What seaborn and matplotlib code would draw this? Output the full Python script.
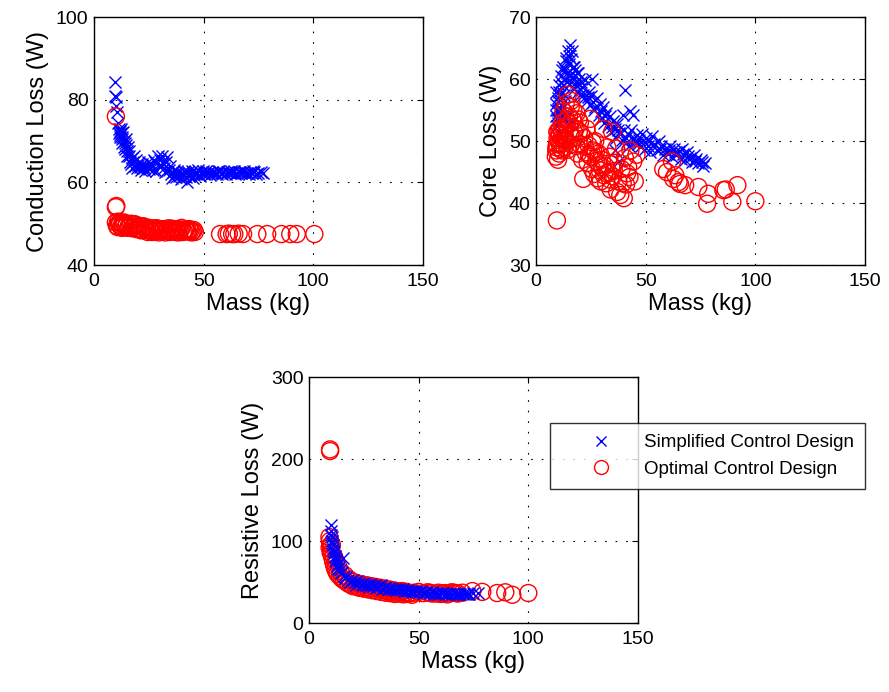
import numpy as np
import pandas as pd
import matplotlib
matplotlib.use("Agg")
import matplotlib.pyplot as plt
import seaborn as sns
from matplotlib.lines import Line2D

# ---------------- data ----------------
# Top-left: Conduction loss
cond_simpl_mass = [9.5, 9.8, 10, 10.2, 10.5, 11, 11.3, 11.8, 12, 12.5, 12.8, 13, 13.5, 14, 14.2, 14.8, 15, 15.5,
                   16, 16.5, 17, 17.2, 18, 18.5, 19, 20, 21, 22, 23, 24, 25, 26, 27, 28, 29, 30, 30.5, 31, 32,
                   33, 33.5, 34, 35, 36, 37, 38, 39, 40, 41, 42, 42.5, 43, 44, 45, 46, 47, 48, 49, 50, 51, 52,
                   53, 54, 55, 56, 57, 58, 59, 60, 61, 62, 63, 64, 65, 66, 67, 68, 69, 70, 71, 72, 73, 75, 77,
                   11.2, 11.7, 12.2, 12.7, 13.2, 13.8, 14.5, 15.2, 16.2, 17.5, 18.2, 19.5, 20.5, 21.5, 22.5,
                   23.5, 24.5, 25.5, 26.5, 27.5, 28.5, 29.5, 31.5, 32.5, 34.5, 35.5, 36.5, 37.5, 38.5, 39.5,
                   40.5, 41.5, 43.5, 44.5, 45.5, 46.5, 47.5, 48.5, 49.5, 50.5, 52.5, 54.5, 56.5, 58.5, 60.5,
                   62.5, 64.5, 66.5, 68.5, 70.5, 72.5, 74, 76]
cond_simpl_loss = [84.3, 81, 80.8, 78.5, 77, 74.5, 73, 72.5, 71.5, 72, 70.5, 71, 70, 69.5, 68, 69, 67.5, 68.5,
                   66.5, 65, 64.5, 66, 65, 64, 65.5, 64.2, 63.8, 64.5, 63.5, 64, 63.2, 64.5, 63, 65, 66.3, 65.5,
                   64, 66.5, 63.5, 65, 66.2, 63, 62, 62.5, 61.8, 62.7, 61.5, 62.3, 62.8, 61.3, 60.2, 62.5, 62,
                   61.2, 62.6, 62.2, 61.7, 62.4, 62.1, 62.8, 62.3, 61.9, 62.6, 62.4, 62.0, 62.7, 62.3, 62.5,
                   62.1, 62.6, 62.4, 62.2, 62.7, 62.3, 62.5, 62.2, 62.6, 62.4, 62.2, 62.5, 62.3, 62.6, 62.4, 62.3,
                   72, 71, 73, 69.5, 72.3, 68.5, 70.5, 66.5, 67.5, 63.5, 66.3, 63.5, 65, 63, 64, 62.8, 65, 63.5,
                   64.2, 65.5, 62.8, 64, 64.8, 62.5, 64, 61.2, 63, 61.3, 62.2, 60.8, 61.8, 62.6, 61.5, 62.8,
                   61.7, 62.1, 62.9, 61.6, 62.8, 62.2, 62.6, 62.2, 62.8, 62.0, 62.5, 62.8, 62.1, 62.5, 62.8,
                   62.1, 62.7, 62.0, 62.5]
cond_opt_mass = [10, 10, 10.2, 10, 10.5, 11, 11.5, 12, 12.5, 13, 13.5, 14, 14.5, 15, 16, 17, 18, 19, 20, 21, 22,
                 23, 24, 25, 26, 27, 28, 29, 30, 31, 32, 33, 34, 35, 36, 37, 38, 39, 40, 41, 42, 43, 44, 45, 46,
                 57.5, 60.5, 61.5, 63, 64, 66, 68, 74.5, 79, 85.5, 89.5, 92.5, 100.5,
                 10.8, 11.8, 12.8, 13.8, 15.5, 16.5, 17.5, 18.5, 19.5, 20.5, 21.5, 22.5, 23.5, 24.5, 25.5,
                 26.5, 27.5, 28.5, 29.5, 30.5, 31.5, 32.5, 33.5, 34.5, 35.5, 36.5, 37.5, 38.5, 39.5, 40.5,
                 41.5, 42.5, 43.5, 44.5, 45.5]
cond_opt_loss = [76, 54, 54.3, 50.3, 49.5, 50.5, 49.8, 50.2, 49.3, 50, 49.6, 50.1, 49.2, 49.9, 49.5, 50, 49.2,
                 49.7, 48.8, 49.4, 48.6, 49.2, 48.4, 49, 48.3, 48.9, 48.2, 48.8, 48.5, 48.1, 48.7, 48.3, 48.9,
                 48.2, 48.6, 48, 48.7, 48.4, 49, 48.2, 48.6, 48.1, 48.4, 48.2, 48,
                 47.5, 47.5, 47.6, 47.5, 47.5, 47.6, 47.5, 47.5, 47.5, 47.5, 47.5, 47.5, 47.5,
                 49.2, 50.4, 49.0, 50.3, 49.0, 49.9, 48.9, 49.9, 48.7, 49.5, 48.4, 49.4, 48.8, 48.0, 48.6,
                 48.0, 48.6, 48.9, 47.9, 48.7, 48.4, 47.9, 48.5, 48.0, 48.8, 48.2, 48.4, 47.9, 48.6, 48.0,
                 48.6, 48.3, 48.7, 47.9, 48.5]

# Top-right: Core loss
core_simpl_mass = [9, 9, 9.2, 9.5, 9.8, 10, 10, 10.3, 11, 11, 11.5, 12, 12, 12.5, 13, 13, 13.5, 14, 14.5, 15,
                   15.5, 15.8, 16, 16.5, 14, 15, 16, 17, 17.5, 18, 18.5, 19, 19.5, 20, 20.5, 21, 22, 22.5, 23,
                   24, 24.5, 25, 25.5, 26, 27, 28, 28.5, 29, 30, 30.5, 31, 32, 33, 33.5, 34, 35, 36, 36.5, 37,
                   38, 39, 39.5, 40, 40.5, 41, 42, 42.5, 43, 44, 44.5, 38, 36, 45, 46, 47, 48, 48.5, 49, 50,
                   51, 52, 53, 54, 55, 56, 57, 58, 59, 60, 61, 62, 63, 64, 65, 66, 67, 68, 69, 70, 71, 72, 73,
                   74, 75, 76, 77,
                   9.3, 9.6, 10.1, 10.6, 11.2, 11.8, 12.3, 12.8, 13.3, 13.8, 14.3, 14.8, 15.3, 16.2, 16.8,
                   17.3, 17.8, 18.3, 19.2, 20.2, 21.5, 23.5, 26.5, 29.5, 31.5, 34.5, 37.5, 41.5, 43.5, 46.5,
                   49.5, 51.5, 53.5, 56.5, 60.5, 63.5, 66.5, 69.5, 72.5, 75.5, 10.5, 12.2, 11.7]
core_simpl_loss = [58, 56, 54, 52.5, 57, 55, 53, 59, 57.5, 55, 60.5, 58, 53.5, 62, 60, 56.5, 63.5, 61, 64.5,
                   62.5, 65.5, 59.5, 63.2, 61, 54, 52.8, 53, 60.3, 62, 59, 61, 58, 60, 57.5, 59.5, 58.8, 57,
                   59.8, 56.5, 58, 55.8, 57.3, 60, 56.3, 55.5, 57, 54.3, 56, 53.8, 55.5, 53, 54.5, 52.5, 54,
                   51.5, 53.3, 52, 50.5, 52.8, 51.3, 50.2, 54.3, 51.8, 58.2, 50.5, 51.2, 49.2, 54.8, 54.2,
                   50.5, 46.8, 48.5, 49.8, 51, 50.2, 49.3, 51.2, 48.5, 50.5, 49.3, 48.3, 50.8, 49.5, 48.5, 50,
                   49.2, 47.8, 48.8, 48, 49.3, 47.5, 48.7, 47.8, 48.4, 47.2, 48, 47, 48.2, 47.3, 46.6, 47.8,
                   47.2, 46.5, 47, 46, 46.5,
                   55, 53.5, 56.5, 58, 59.5, 61.5, 59, 57.5, 61.5, 63, 59.5, 63.8, 60.5, 64.5, 62, 58.5, 61.5,
                   59.5, 61, 58.5, 57.5, 57.2, 55, 54.8, 54, 52.3, 51.8, 49.8, 51.8, 49.5, 49.8, 50, 49.2, 48.8,
                   48.6, 48.2, 48.7, 47.6, 46.8, 46.7, 51.5, 55.5, 54]
core_opt_mass = [9.5, 9, 9.2, 9.5, 9.8, 10, 10.2, 10.5, 11, 11, 11.5, 12, 12, 12.5, 13, 13, 13.5, 14, 14, 14.5,
                 15, 15.5, 16, 16, 16.5, 17, 17.5, 18, 18.5, 19, 19.5, 20, 20, 21, 21.5, 22, 22.5, 23, 23.5, 24,
                 24.7, 25, 25.5, 26, 26.5, 27, 27.5, 28, 28.5, 29, 29.5, 30, 30.6, 31, 31.5, 32, 32.5, 33, 33.5,
                 34, 34.7, 35, 36, 36.5, 37, 37.5, 38.4, 39, 40, 40.5, 41, 42, 42.6, 43, 44.3, 45, 45.8,
                 58, 59.7, 62, 62.6, 63.5, 65, 65.6, 68, 74, 78.5, 78, 85.4, 86.5, 89.5, 91.8, 100,
                 9.3, 9.7, 10.4, 10.8, 11.3, 11.8, 12.3, 12.8, 13.3, 13.8, 14.3, 15.3, 15.8, 17.3, 18.3, 19.3,
                 20.5, 22.2, 24.2, 25.8, 27.2, 28.8, 30.2, 32.2, 33.8, 35.5, 39.5, 41.5]
core_opt_loss = [37.2, 47.5, 48.5, 49.5, 50.5, 47, 51.5, 48, 49.5, 52, 50.5, 48.5, 53, 54.8, 51, 49, 56, 52.5,
                 50, 57.5, 54, 51, 56.5, 49.5, 53.5, 55, 50.5, 52, 54.5, 48, 51.5, 53, 49.5, 47, 43.9, 50.5,
                 48.2, 52, 46.5, 49.3, 53.6, 47.5, 45.5, 48.5, 44.7, 50, 46.8, 44, 48, 45.3, 43.5, 47, 52,
                 44.5, 46, 43.2, 49, 45, 47.5, 42.2, 51.5, 44.3, 46.5, 48.8, 41.8, 43.5, 41.3, 45.5, 40.8,
                 47.3, 43, 45.8, 44.2, 48.5, 46.7, 43.5, 47.8,
                 45.5, 45, 46.7, 43.9, 44.5, 43.4, 43.1, 42.9, 42.6, 41.5, 39.9, 42.1, 42.2, 40.2, 42.9, 40.3,
                 49, 51.5, 49.8, 51, 48.8, 51.8, 50.2, 52.2, 50.3, 53.5, 48.6, 52.8, 55.5, 51.5, 49.2, 53.5,
                 51.2, 49.2, 47.8, 49.8, 48.2, 46.2, 45.8, 44.8, 43.8, 45.2, 43.2, 44.8]

# Bottom: Resistive loss
res_simpl_mass = [10, 10, 10.3, 10.5, 10.8, 11, 11.5, 12, 12.5, 13, 13.5, 14, 15, 15.5, 16, 17, 18, 19, 20, 21,
                  22, 23, 24, 25, 26, 27, 28, 29, 30, 31, 32, 33, 34, 35, 36, 37, 38, 39, 40, 41, 42, 43, 44,
                  45, 46, 47, 48, 49, 50, 51, 52, 53, 54, 55, 56, 57, 58, 59, 60, 61, 62, 63, 64, 65, 66, 67,
                  68, 69, 70, 71, 72, 73, 75, 77,
                  10.2, 10.7, 11.2, 11.8, 12.3, 12.8, 13.3, 14.5, 16.5, 18.5, 21.5, 24.5, 27.5, 30.5, 33.5,
                  36.5, 39.5, 43.5, 47.5, 52.5, 57.5, 62.5, 67.5, 72.5]
res_simpl_loss = [120, 112, 105, 100, 95, 90, 85, 80, 76, 72, 68, 65, 62, 79, 58, 56, 53, 51, 52, 50, 51, 49,
                  48, 49, 47, 46, 48, 45, 46, 44, 45, 46, 43, 44, 42, 43, 41, 42, 40, 41.5, 40.5, 42, 39.5, 40,
                  38.5, 39.5, 38, 39, 37.5, 38.5, 37, 38, 37.5, 36.5, 37.5, 36.5, 37, 36, 37, 36.5, 35.5, 36.5,
                  36, 35.5, 36.5, 35.5, 36, 35.5, 36, 35.5, 36, 35.5, 36.5, 37,
                  108, 98, 88, 82, 78, 70, 66, 61, 55, 50, 47, 46, 44, 43, 42, 41, 40, 39, 38, 37, 36, 35, 35,
                  35]
res_opt_mass = [9.6, 9.6, 9.3, 9.5, 9.8, 10, 10.3, 10.6, 11, 11.5, 12, 12.5, 13, 14, 15, 16, 17, 18, 19, 20,
                21, 22, 23, 24, 25, 26, 27, 28, 29, 30, 31, 32, 33, 34, 35, 36, 37, 38, 39, 40, 41, 42, 43, 44,
                45, 46, 47, 55, 58, 60, 62, 63, 64, 66, 68, 74.5, 79, 85.8, 89.5, 92.7, 100,
                9.4, 9.9, 10.4, 11.2, 12.2, 13.5, 14.5, 16.5, 18.5, 20.5, 22.5, 24.5, 26.5, 28.5, 30.5,
                32.5, 34.5, 36.5, 38.5, 40.5, 42.5, 44.5, 48, 50, 52, 54, 56, 59, 61, 65, 67, 70]
res_opt_loss = [210, 212, 105, 100, 95, 90, 85, 80, 75, 70, 66, 63, 60, 57, 54, 52, 50, 48, 47, 45, 46, 44, 43,
                45, 42, 44, 41, 43, 40, 42, 39, 41, 38, 40, 37, 39, 36.5, 38, 35.5, 37, 36, 38, 35, 37, 35.5,
                36.5, 34.5, 37, 36, 35.5, 36.5, 35, 36, 37, 36, 39, 38, 36.6, 37.5, 34.5, 36.6,
                92, 86, 96, 82, 76, 68, 62, 58, 53, 50, 48, 47, 46, 45, 44, 43, 42, 41, 40, 39, 39, 38, 37,
                38, 36.5, 37.5, 36, 37, 36, 37.5, 36.5, 37]

x_ticks = [0, 50, 100, 150]
labels = ["Simplified Control Design", "Optimal Control Design"]

# ---------------- styling ----------------
sns.set_theme(style="white")
plt.rcParams["font.family"] = ["Liberation Sans", "DejaVu Sans"]
plt.rcParams["xtick.direction"] = "in"
plt.rcParams["ytick.direction"] = "in"
plt.rcParams["text.color"] = "black"
plt.rcParams["axes.labelcolor"] = "black"
plt.rcParams["xtick.color"] = "black"
plt.rcParams["ytick.color"] = "black"

BLUE = (0, 0, 1)
RED = (1, 0, 0)

fig = plt.figure(figsize=(8.89, 6.92), dpi=100)
ax1 = fig.add_axes([0.1057, 0.617, 0.370, 0.358])
ax2 = fig.add_axes([0.6030, 0.617, 0.370, 0.358])
ax3 = fig.add_axes([0.3476, 0.0997, 0.370, 0.355])


def draw(ax, sm, sl, om, ol, ylim, yticks, ylabel, red_on_top):
    zr, zb = (3, 2) if red_on_top else (2, 3)
    sns.scatterplot(x=om, y=ol, ax=ax, marker="o", s=150, color=RED, linewidth=1.0, zorder=zr)
    coll = ax.collections[-1]
    coll.set_facecolor("none")
    coll.set_edgecolor(RED)
    sns.scatterplot(x=sm, y=sl, ax=ax, marker="x", s=75, color=BLUE, linewidth=1.0, zorder=zb)
    ax.set_xlim(0, 150)
    ax.set_ylim(*ylim)
    ax.set_xticks(x_ticks)
    ax.set_yticks(yticks)
    ax.grid(True, color="black", linestyle=(0, (1.5, 8)), linewidth=0.8)
    ax.tick_params(axis="both", which="major", labelsize=14, length=4, width=0.8,
                   top=True, right=True, direction="in", color="black", labelcolor="black")
    ax.tick_params(axis="x", pad=6)
    ax.tick_params(axis="y", pad=4)
    for sp in ax.spines.values():
        sp.set_color("black")
        sp.set_linewidth(1.0)
    ax.set_xlabel("Mass (kg)", fontsize=17, labelpad=2, color="black")
    ax.set_ylabel(ylabel, fontsize=17, labelpad=5, color="black")


draw(ax1, cond_simpl_mass, cond_simpl_loss, cond_opt_mass, cond_opt_loss,
     (40, 100), [40, 60, 80, 100], "Conduction Loss (W)", True)
draw(ax2, core_simpl_mass, core_simpl_loss, core_opt_mass, core_opt_loss,
     (30, 70), [30, 40, 50, 60, 70], "Core Loss (W)", True)
draw(ax3, res_simpl_mass, res_simpl_loss, res_opt_mass, res_opt_loss,
     (0, 300), [0, 100, 200, 300], "Resistive Loss (W)", False)

handles = [
    Line2D([], [], linestyle="none", marker="x", markersize=7, markeredgewidth=1.0, color=BLUE),
    Line2D([], [], linestyle="none", marker="o", markersize=10, markeredgewidth=1.0,
           markerfacecolor="none", markeredgecolor=RED),
]
leg = fig.legend(handles, labels, loc="center", bbox_to_anchor=(0.7964, 0.341),
                 fontsize=13.5, frameon=True, fancybox=False, edgecolor="black",
                 handlelength=4.2, handletextpad=0.2, borderpad=0.6, labelspacing=0.5)
leg.get_frame().set_linewidth(1.0)
for t in leg.get_texts():
    t.set_color("black")

fig.savefig("out.png", dpi=100, facecolor="white")
